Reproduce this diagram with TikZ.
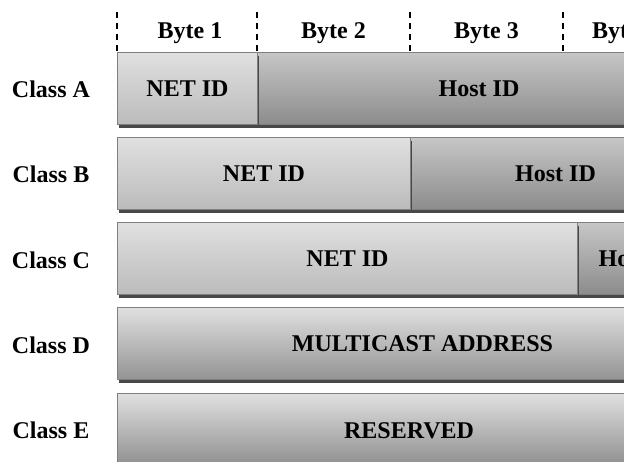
\documentclass[tikz,border=0pt]{standalone}
\usepackage{fontspec}
\setmainfont{Liberation Serif}
\usetikzlibrary{shadows}
\definecolor{lttop}{HTML}{E0E0E0}
\definecolor{ltbot}{HTML}{BBBBBB}
\definecolor{dktop}{HTML}{C6C6C6}
\definecolor{dkbot}{HTML}{8C8C8C}
\definecolor{edge}{HTML}{808080}
\definecolor{shad}{HTML}{484848}
\tikzset{
  lbl/.style={font=\fontsize{24}{27}\selectfont\bfseries, inner sep=0pt},
  seg/.style={draw=edge, line width=1pt, minimum height=72pt, inner sep=0pt,
    anchor=north west, lbl,
    drop shadow={shadow xshift=1.5pt, shadow yshift=-3pt, fill=shad, opacity=1}},
  lightseg/.style={seg, top color=lttop, bottom color=ltbot},
  darkseg/.style={seg, top color=dktop, bottom color=dkbot},
  divider/.style={dash pattern=on 6pt off 5pt, line width=1.3pt},
  rowlbl/.style={lbl, anchor=base}
}
\begin{document}
\begin{tikzpicture}[x=1pt,y=1pt]
\useasboundingbox (0,0) rectangle (624,-461);
\clip (0,0) rectangle (624,-461);
% byte dividers
\foreach \n/\x in {1/117,2/257,3/410,4/563}{
  \coordinate (d\n t) at (\x,-12);
  \coordinate (d\n b) at (\x,-52);
  \draw[divider] (d\n t) -- (d\n b);
}
\node[rowlbl] (b1) at (190,-38) {Byte 1};
\node[rowlbl] (b2) at (333.5,-38) {Byte 2};
\node[rowlbl] (b3) at (486.5,-38) {Byte 3};
\node[lbl, anchor=base west] (b4) at (592,-38) {Byte 4};
% class A
\node[darkseg, minimum width=443pt] (ahost) at (257,-52) {Host ID};
\node[lightseg, minimum width=140pt] (anet) at (117,-52) {NET ID};
% class B
\node[darkseg, minimum width=290pt] (bhost) at (410,-137) {Host ID};
\node[lightseg, minimum width=293pt] (bnet) at (117,-137) {NET ID};
% class C
\node[darkseg, minimum width=123pt] (chost) at (577,-222) {Host ID};
\node[lightseg, minimum width=460pt] (cnet) at (117,-222) {NET ID};
% class D
\node[lightseg, top color=lttop, bottom color=dkbot!85!ltbot, minimum width=610pt] (dall) at (117,-307) {MULTICAST ADDRESS};
% class E
\node[lightseg, top color=lttop, bottom color=dkbot, minimum width=583pt, minimum height=75pt] (eall) at (117,-393) {RESERVED};
% class labels
\node[rowlbl] (ca) at (51,-97.5) {Class A};
\node[rowlbl] (cb) at (51,-182.5) {Class B};
\node[rowlbl] (cc) at (51,-268) {Class C};
\node[rowlbl] (cd) at (51,-353) {Class D};
\node[rowlbl] (ce) at (51,-438.5) {Class E};
\end{tikzpicture}
\end{document}
